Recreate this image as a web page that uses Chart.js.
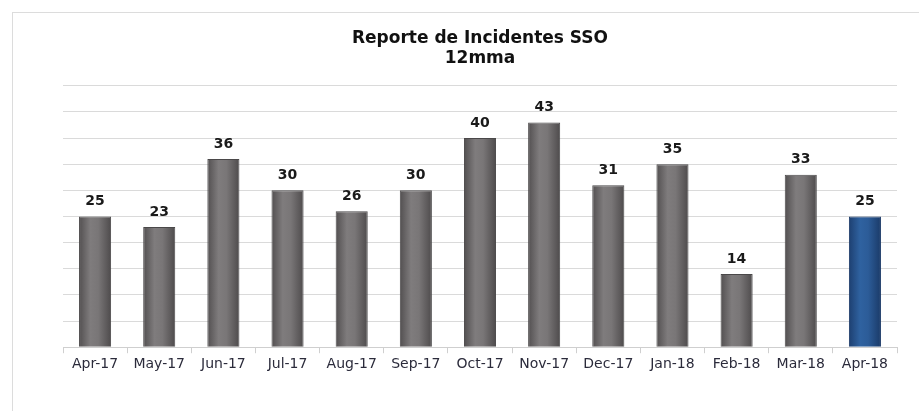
<!DOCTYPE html>
<html>
<head>
<meta charset="utf-8">
<script src="https://cdn.jsdelivr.net/npm/chart.js@4.4.1/dist/chart.umd.min.js"></script>
<style>
  html, body { margin: 0; padding: 0; background: #fff; }
  #wrap { position: relative; width: 919px; height: 411px; }
  #frame { position: absolute; left: 12px; top: 12px; width: 920px; height: 420px; border: 1px solid #dcdcdc; box-sizing: border-box; }
  canvas { position: absolute; left: 0; top: 0; }
</style>
</head>
<body>
<div id="wrap">
  <div id="frame"></div>
  <canvas id="incidentesChart" width="919" height="411"></canvas>
</div>
<script>
// DATOS
const meses = ["Apr-17", "May-17", "Jun-17", "Jul-17", "Aug-17", "Sep-17", "Oct-17", "Nov-17", "Dec-17", "Jan-18", "Feb-18", "Mar-18", "Apr-18"];
const incidentes = [25, 23, 36, 30, 26, 30, 40, 43, 31, 35, 14, 33, 25];
const titulo = ["Reporte de Incidentes SSO", "12mma"];

// gradiente tipo cilindro para cada barra
function barFill(ctx) {
  const chart = ctx.chart;
  const x = chart.scales.x;
  const last = ctx.dataIndex === meses.length - 1;
  const plano = last ? "#2a5892" : "#6f6d6e";
  if (!x || ctx.dataIndex === undefined) return plano;
  const cx = x.getPixelForValue(ctx.dataIndex);
  const w = (x.width / meses.length) * 0.5;
  if (!isFinite(cx) || !isFinite(w) || w <= 0) return plano;
  const g = chart.ctx.createLinearGradient(cx - w / 2, 0, cx + w / 2, 0);
  if (last) {
    g.addColorStop(0, "#1d3f70");
    g.addColorStop(0.35, "#2f62a0");
    g.addColorStop(0.6, "#2c5c98");
    g.addColorStop(1, "#1a3a68");
  } else {
    g.addColorStop(0, "#524f50");
    g.addColorStop(0.35, "#7f7c7d");
    g.addColorStop(0.6, "#797677");
    g.addColorStop(1, "#4e4b4c");
  }
  return g;
}

// etiquetas encima de las barras
const etiquetas = {
  id: "etiquetas",
  afterDatasetsDraw(chart) {
    const c = chart.ctx;
    const meta = chart.getDatasetMeta(0);
    c.save();
    c.font = "bold 14px 'DejaVu Sans'";
    c.fillStyle = "#1a1a1a";
    c.textAlign = "center";
    c.textBaseline = "middle";
    meta.data.forEach((bar, i) => {
      c.fillText(incidentes[i], bar.x, bar.y - 15);
    });
    c.restore();
  },
};

const ctx = document.getElementById("incidentesChart").getContext("2d");
new Chart(ctx, {
  type: "bar",
  data: {
    labels: meses,
    datasets: [
      {
        data: incidentes,
        backgroundColor: barFill,
        borderColor: (c) => (c.dataIndex === meses.length - 1 ? "#1a3866" : "#4a4849"),
        borderWidth: 1,
        barPercentage: 0.5,
        categoryPercentage: 1,
      },
    ],
  },
  options: {
    responsive: false,
    animation: false,
    layout: { padding: { left: 63, right: 22, top: 28, bottom: 35 } },
    plugins: {
      legend: { display: false },
      tooltip: { enabled: false },
      title: {
        display: true,
        text: titulo,
        color: "#111",
        font: { family: "'DejaVu Sans'", size: 17, weight: "bold" },
        padding: { top: 0, bottom: 17 },
      },
    },
    scales: {
      x: {
        grid: { drawOnChartArea: false, tickLength: 6, color: "#cfcfcf" },
        border: { color: "#cfcfcf" },
        ticks: { color: "#2b2b3b", font: { family: "'DejaVu Sans'", size: 14 }, padding: 3, maxRotation: 0 },
      },
      y: {
        min: 0,
        max: 50,
        ticks: { display: false, stepSize: 5 },
        grid: { color: "#dadada", drawTicks: false },
        border: { display: false },
      },
    },
  },
  plugins: [etiquetas],
});
</script>
</body>
</html>
